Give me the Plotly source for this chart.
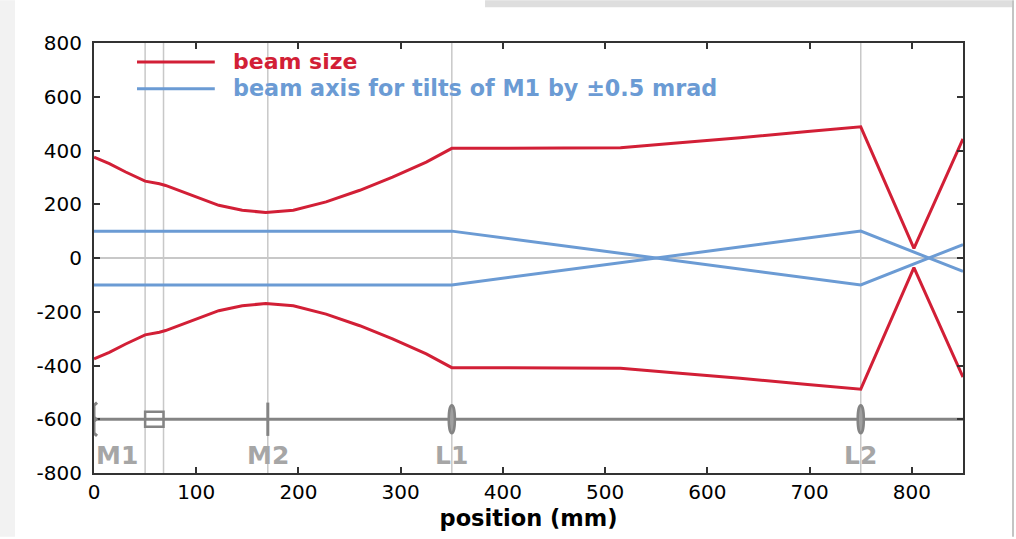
import plotly.graph_objects as go

# ---------------- data ----------------
beam_x = [0, 15, 31, 50, 64, 70, 96, 122, 145, 168, 195, 227, 260, 292, 325, 350,
          400, 450, 515, 567, 632, 698, 750, 802, 850]
beam_upper = [375, 351, 320, 286, 276, 270, 233, 196, 178, 169, 178, 209, 252, 301, 357, 408,
              408, 408, 410, 427, 447, 471, 488, 36, 443]
beam_lower = [-v for v in beam_upper]

axis_x = [0, 350, 750, 850]
axis_tilt_plus = [100, 100, -100, 50]
axis_tilt_minus = [-100, -100, 100, -50]

element_names = ["M1", "M2", "L1", "L2"]
element_pos = [0, 170, 350, 750]
element_kind = ["curved", "flat", "lens", "lens"]
crystal_edges = [50, 68]

optical_axis_y = -600
label_y = -735

x_ticks = [0, 100, 200, 300, 400, 500, 600, 700, 800]
y_ticks = [-800, -600, -400, -200, 0, 200, 400, 600, 800]
y_tick_labels = ["-800", "-600", "-400", "-200", "0", "200", "400", "600", "800"]

RED = "#d21f36"
BLUE = "#6b9bd4"
GRAY = "#848484"
LIGHT = "#c8c8c8"
FONT = "DejaVu Sans"

fig = go.Figure()

fig.add_trace(go.Scatter(x=beam_x, y=beam_upper, mode="lines",
                         line=dict(color=RED, width=3), showlegend=False))
fig.add_trace(go.Scatter(x=beam_x, y=beam_lower, mode="lines",
                         line=dict(color=RED, width=3), showlegend=False))
fig.add_trace(go.Scatter(x=axis_x, y=axis_tilt_plus, mode="lines",
                         line=dict(color=BLUE, width=3), showlegend=False))
fig.add_trace(go.Scatter(x=axis_x, y=axis_tilt_minus, mode="lines",
                         line=dict(color=BLUE, width=3), showlegend=False))

shapes = []
# vertical guide lines at elements
for xv in element_pos[1:] + crystal_edges:
    shapes.append(dict(type="line", xref="x", yref="paper", x0=xv, x1=xv, y0=0, y1=1,
                       line=dict(color=LIGHT, width=1.5), layer="below"))
# optical axis
shapes.append(dict(type="line", xref="x", yref="y", x0=0, x1=850,
                   y0=optical_axis_y, y1=optical_axis_y,
                   line=dict(color=GRAY, width=3), layer="below"))
# crystal box
shapes.append(dict(type="rect", xref="x", yref="y", x0=crystal_edges[0], x1=crystal_edges[1],
                   y0=optical_axis_y - 28, y1=optical_axis_y + 28,
                   line=dict(color=GRAY, width=2.5), fillcolor="rgba(0,0,0,0)"))
for name, pos, kind in zip(element_names, element_pos, element_kind):
    if kind == "curved":
        c = optical_axis_y
        path = (f"M {pos+3},{c+62} L {pos},{c+52} L {pos},{c+8} L {pos+2},{c} "
                f"L {pos},{c-8} L {pos},{c-52} L {pos+3},{c-62}")
        shapes.append(dict(type="path", xref="x", yref="y", path=path,
                           line=dict(color=GRAY, width=3)))
    elif kind == "flat":
        shapes.append(dict(type="line", xref="x", yref="y", x0=pos, x1=pos,
                           y0=optical_axis_y - 62, y1=optical_axis_y + 62,
                           line=dict(color=GRAY, width=3)))
    else:
        shapes.append(dict(type="circle", xref="x", yref="y", x0=pos - 3, x1=pos + 3,
                           y0=optical_axis_y - 52, y1=optical_axis_y + 52,
                           line=dict(color=GRAY, width=2.5), fillcolor="#a0a0a0"))

# legend (manual)
shapes.append(dict(type="line", xref="paper", yref="paper", x0=0.0495, x1=0.139,
                   y0=0.956, y1=0.956, line=dict(color=RED, width=3)))
shapes.append(dict(type="line", xref="paper", yref="paper", x0=0.0495, x1=0.139,
                   y0=0.8935, y1=0.8935, line=dict(color=BLUE, width=3)))

# page decorations
shapes.append(dict(type="rect", xref="paper", yref="paper", x0=1.0564, x1=1.0587,
                   y0=-0.148, y1=1.0995, line=dict(width=0), fillcolor="#c4c4c4", layer="below"))
shapes.append(dict(type="rect", xref="paper", yref="paper", x0=0.45, x1=1.0564,
                   y0=1.0833, y1=1.0995, line=dict(width=0), fillcolor="#dedede", layer="below"))
shapes.append(dict(type="rect", xref="paper", yref="paper", x0=-0.1082, x1=-0.0909,
                   y0=-0.148, y1=1.0995, line=dict(width=0), fillcolor="#f2f2f2", layer="below"))

annotations = [
    dict(xref="paper", yref="paper", x=0.158, y=0.958, xanchor="left", yanchor="middle",
         text="<b>beam size</b>", showarrow=False, font=dict(family=FONT, size=22, color=RED)),
    dict(xref="paper", yref="paper", x=0.158, y=0.895, xanchor="left", yanchor="middle",
         text="<b>beam axis for tilts of M1 by ±0.5 mrad</b>", showarrow=False,
         font=dict(family=FONT, size=22.3, color=BLUE)),
]
for i, (name, pos) in enumerate(zip(element_names, element_pos)):
    annotations.append(dict(xref="x", yref="y", x=pos, y=label_y,
                            xanchor="left" if i == 0 else "center", yanchor="middle",
                            text=f"<b>{name}</b>", showarrow=False,
                            font=dict(family=FONT, size=25, color="#a6a6a6")))

fig.update_layout(
    width=1016, height=539,
    margin=dict(l=94, r=53, t=43, b=64),
    paper_bgcolor="white", plot_bgcolor="white",
    shapes=shapes, annotations=annotations,
    font=dict(family=FONT, size=20, color="black"),
    showlegend=False,
)
fig.update_xaxes(range=[0, 850], tickvals=x_ticks, ticks="inside", ticklen=6, tickwidth=2,
                 tickcolor="#333", showline=True, linecolor="#333", linewidth=2, mirror="ticks",
                 showgrid=False, zeroline=False, tickfont=dict(size=20),
                 title=dict(text="<b>position (mm)</b>", font=dict(size=22.5), standoff=7))
fig.update_yaxes(range=[-800, 800], tickvals=y_ticks, ticktext=y_tick_labels,
                 ticks="inside", ticklen=6, tickwidth=2,
                 tickcolor="#333", showline=True, linecolor="#333", linewidth=2, mirror="ticks",
                 showgrid=False, zeroline=True, zerolinecolor=LIGHT, zerolinewidth=1.5,
                 tickfont=dict(size=20), ticklabelstandoff=6)

fig.write_html("out.html", config={"displayModeBar": False},
               post_script="document.body.style.margin='0px';")
